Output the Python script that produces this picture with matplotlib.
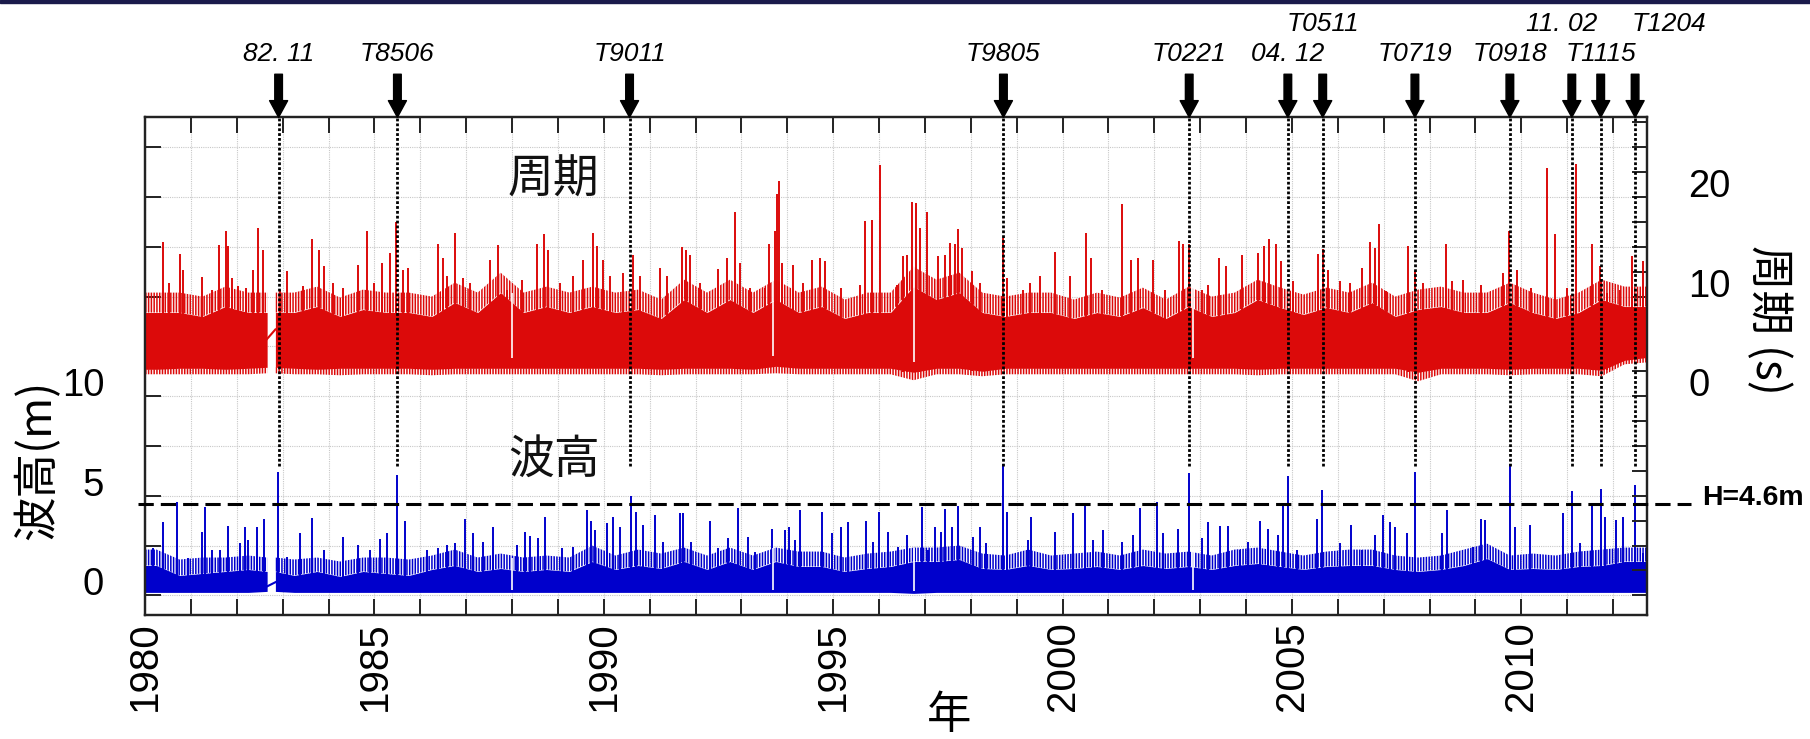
import numpy as np
import matplotlib
matplotlib.use("Agg")
import matplotlib.pyplot as plt
from matplotlib.lines import Line2D
from matplotlib.patches import Rectangle
from matplotlib.ticker import FixedLocator, FuncFormatter

plt.rcParams['font.family'] = ['Liberation Sans', 'Noto Sans CJK JP', 'DejaVu Sans']
plt.rcParams['hatch.linewidth'] = 1.1

# ---------------------------------------------------------------- data
# Half-year bins from 1980.0: solid band edges and the reach of the dense hairlines
period_hi = [8.4, 8.4, 8.0, 9.0, 8.4, 8.4, 8.4, 9.0, 8.0, 8.7,
             8.4, 8.4, 8.0, 9.4, 8.4, 10.4, 8.4, 9.0, 8.4, 9.0,
             8.4, 8.7, 7.8, 9.7, 8.4, 9.7, 8.4, 9.7, 8.4, 9.0,
             7.8, 8.4, 8.4, 11.0, 9.7, 10.4, 8.4, 8.0, 8.4, 8.4,
             7.8, 8.4, 8.0, 8.9, 7.8, 9.0, 8.0, 8.4, 9.7, 8.9,
             8.2, 8.9, 8.4, 9.4, 8.0, 8.7, 9.0, 8.4, 8.4, 9.4,
             8.4, 7.8, 8.4, 9.7, 9.0, 9.0]
period_fringe = [10.4, 10.4, 10.0, 11.0, 10.4, 10.4, 10.4, 11.0, 9.9, 10.7,
                 10.4, 10.4, 10.0, 11.4, 10.4, 12.4, 10.4, 11.0, 10.4, 11.0,
                 10.4, 10.7, 9.7, 11.7, 10.4, 11.7, 10.4, 11.7, 10.4, 11.0,
                 9.7, 10.4, 10.4, 13.0, 11.7, 12.4, 10.4, 10.0, 10.4, 10.4,
                 9.7, 10.4, 9.9, 10.9, 9.7, 11.0, 10.0, 10.4, 11.7, 10.9,
                 10.2, 10.9, 10.4, 11.4, 10.0, 10.7, 11.0, 10.4, 10.4, 11.4,
                 10.4, 9.7, 10.4, 11.7, 11.0, 11.0]
period_lo = [2.7, 2.8, 2.8, 2.7, 2.8, 2.9, 2.8, 2.7, 2.8, 2.8,
             2.8, 2.8, 2.7, 2.8, 2.8, 2.8, 2.8, 2.8, 2.8, 2.8,
             2.8, 2.8, 2.7, 2.8, 2.8, 2.8, 2.7, 3.0, 2.8, 2.8,
             2.8, 2.8, 2.8, 2.4, 2.8, 2.8, 2.5, 2.8, 2.8, 2.8,
             2.8, 2.8, 2.8, 2.8, 2.8, 2.8, 2.8, 2.8, 2.7, 2.8,
             2.8, 2.8, 2.8, 2.8, 2.8, 2.4, 2.8, 2.8, 2.8, 2.7,
             2.8, 2.8, 2.8, 2.6, 3.6, 3.9]
period_floor = [2.2, 2.2, 2.2, 2.2, 2.2, 2.3, 2.2, 2.2, 2.1, 2.2,
                2.2, 2.2, 2.1, 2.2, 2.2, 2.2, 2.2, 2.2, 2.2, 2.2,
                2.2, 2.2, 2.1, 2.2, 2.2, 2.2, 2.2, 2.3, 2.2, 2.2,
                2.2, 2.2, 2.2, 1.6, 2.2, 2.2, 2.0, 2.2, 2.2, 2.2,
                2.2, 2.2, 2.2, 2.2, 2.2, 2.2, 2.2, 2.2, 2.1, 2.2,
                2.2, 2.2, 2.2, 2.2, 2.2, 1.5, 2.2, 2.2, 2.2, 2.1,
                2.2, 2.2, 2.2, 2.0, 3.2, 3.4]
height_hi = [1.5, 1.0, 1.1, 1.2, 1.3, 1.2, 1.0, 1.2, 0.95, 1.2,
             1.1, 1.0, 1.3, 1.5, 1.2, 1.35, 1.2, 1.3, 1.2, 1.7,
             1.3, 1.5, 1.35, 1.7, 1.3, 1.7, 1.3, 1.7, 1.45, 1.45,
             1.2, 1.35, 1.45, 1.7, 1.7, 1.8, 1.35, 1.3, 1.5, 1.3,
             1.35, 1.45, 1.3, 1.5, 1.35, 1.45, 1.3, 1.5, 1.6, 1.45,
             1.3, 1.45, 1.5, 1.5, 1.3, 1.2, 1.3, 1.5, 1.85, 1.3,
             1.35, 1.3, 1.45, 1.5, 1.7, 1.7]
height_fringe = [2.3, 1.8, 1.9, 1.9, 2.0, 1.9, 1.8, 1.9, 1.7, 1.9,
                 1.9, 1.8, 2.0, 2.3, 1.9, 2.1, 1.9, 2.0, 1.9, 2.5,
                 2.0, 2.3, 2.1, 2.4, 2.0, 2.4, 2.0, 2.4, 2.2, 2.2,
                 1.9, 2.1, 2.2, 2.4, 2.4, 2.5, 2.1, 2.0, 2.3, 2.0,
                 2.1, 2.2, 2.0, 2.3, 2.1, 2.2, 2.0, 2.3, 2.4, 2.2,
                 2.0, 2.2, 2.3, 2.3, 2.0, 1.9, 2.0, 2.3, 2.6, 2.0,
                 2.1, 2.0, 2.2, 2.3, 2.4, 2.4]
height_lo = [0.15, 0.15, 0.15, 0.15, 0.15, 0.2, 0.15, 0.15, 0.15, 0.15,
             0.15, 0.15, 0.15, 0.15, 0.15, 0.15, 0.15, 0.15, 0.15, 0.15,
             0.15, 0.15, 0.15, 0.15, 0.15, 0.15, 0.15, 0.15, 0.15, 0.15,
             0.15, 0.15, 0.15, 0.1, 0.15, 0.15, 0.15, 0.15, 0.15, 0.15,
             0.15, 0.15, 0.15, 0.15, 0.15, 0.15, 0.15, 0.15, 0.15, 0.15,
             0.15, 0.15, 0.15, 0.15, 0.15, 0.15, 0.15, 0.15, 0.15, 0.15,
             0.15, 0.15, 0.15, 0.15, 0.15, 0.15]

# Individual peaks standing out of the band
period_peak_t = [1980.40, 1980.51, 1980.75, 1980.83, 1981.23, 1981.45, 1981.62, 1981.76, 1981.81,
                 1981.89, 1982.03, 1982.21, 1982.36, 1982.47, 1982.58, 1982.94, 1983.09, 1983.45,
                 1983.63, 1983.78, 1983.89, 1984.10, 1984.32, 1984.65, 1984.84, 1984.98, 1985.16,
                 1985.34, 1985.47, 1985.63, 1985.74, 1986.38, 1986.50, 1986.57, 1986.76, 1986.94,
                 1987.08, 1987.52, 1987.70, 1987.88, 1988.21, 1988.54, 1988.70, 1988.79, 1989.04,
                 1989.33, 1989.55, 1989.76, 1989.84, 1989.99, 1990.13, 1990.42, 1990.63, 1990.79,
                 1991.22, 1991.37, 1991.70, 1991.80, 1991.88, 1992.10, 1992.49, 1992.68, 1992.86,
                 1992.97, 1993.19, 1993.51, 1993.61, 1993.73, 1993.78, 1993.82, 1993.88, 1994.13,
                 1994.35, 1994.53, 1994.71, 1994.82, 1995.18, 1995.58, 1995.69, 1995.84, 1996.02,
                 1996.38, 1996.53, 1996.60, 1996.71, 1996.80, 1996.89, 1997.05, 1997.29, 1997.44,
                 1997.54, 1997.65, 1997.73, 1997.80, 1998.02, 1998.20, 1998.71, 1998.78, 1999.14,
                 1999.29, 1999.51, 1999.83, 2000.16, 2000.51, 2000.63, 2000.85, 2001.29, 2001.50,
                 2001.65, 2001.98, 2002.23, 2002.54, 2002.62, 2002.76, 2003.03, 2003.17, 2003.41,
                 2003.57, 2003.90, 2004.26, 2004.39, 2004.50, 2004.66, 2004.77, 2005.03, 2005.56,
                 2005.68, 2005.79, 2006.04, 2006.26, 2006.52, 2006.70, 2006.81, 2006.89, 2007.06,
                 2007.53, 2007.68, 2007.86, 2008.36, 2008.48, 2008.73, 2009.13, 2009.60, 2009.74,
                 2009.90, 2010.22, 2010.55, 2010.73, 2010.99, 2011.19, 2011.54, 2011.71, 2011.86,
                 2012.15, 2012.42, 2012.66]
period_peak_v = [15.5, 11.4, 14.3, 12.7, 12.0, 10.7, 15.2, 16.6, 15.1,
                 11.9, 11.1, 10.9, 12.7, 16.9, 14.7, 10.7, 12.6, 11.1,
                 15.8, 14.7, 13.1, 11.4, 10.9, 13.2, 16.6, 11.4, 13.4,
                 14.4, 17.5, 12.7, 12.9, 15.3, 13.9, 12.1, 16.4, 11.9,
                 11.4, 13.7, 15.2, 10.7, 11.7, 15.3, 16.3, 14.7, 11.4,
                 12.1, 13.7, 16.4, 15.1, 13.7, 12.1, 12.4, 14.2, 12.1,
                 12.9, 12.1, 15.0, 14.7, 14.2, 11.4, 12.8, 13.9, 18.5,
                 13.4, 10.9, 10.9, 15.3, 16.6, 20.3, 21.6, 13.4, 13.2,
                 11.4, 13.7, 13.9, 13.6, 10.9, 11.2, 17.6, 17.7, 23.2,
                 11.2, 14.1, 14.2, 19.5, 19.4, 16.9, 18.5, 14.1, 14.2,
                 15.4, 15.3, 16.8, 14.9, 12.6, 11.4, 15.9, 11.9, 10.7,
                 11.4, 12.1, 14.5, 12.1, 16.4, 13.9, 10.7, 19.3, 13.7,
                 13.9, 13.7, 10.7, 15.6, 15.3, 15.3, 10.7, 11.2, 13.9,
                 13.1, 14.2, 14.4, 15.1, 15.8, 15.3, 13.6, 11.6, 14.3,
                 14.8, 12.7, 11.6, 11.4, 12.9, 15.5, 14.9, 17.3, 10.6,
                 15.1, 12.6, 11.4, 15.3, 11.6, 11.7, 11.2, 12.4, 16.6,
                 12.7, 10.9, 22.9, 16.3, 10.9, 23.3, 15.3, 13.1, 10.4,
                 10.7, 14.1, 13.6]

height_peak_t = [1980.18, 1980.40, 1980.69, 1980.94, 1981.23, 1981.31, 1981.45, 1981.63, 1981.81,
                 1982.07, 1982.18, 1982.25, 1982.43, 1982.59, 1982.90, 1983.09, 1983.38, 1983.63,
                 1983.89, 1984.32, 1984.65, 1984.90, 1985.11, 1985.27, 1985.50, 1985.67, 1986.14,
                 1986.39, 1986.57, 1986.76, 1986.97, 1987.15, 1987.37, 1987.59, 1988.10, 1988.28,
                 1988.39, 1988.57, 1988.72, 1989.08, 1989.33, 1989.63, 1989.73, 1989.81, 1990.06,
                 1990.21, 1990.35, 1990.60, 1990.71, 1990.86, 1991.11, 1991.30, 1991.66, 1991.73,
                 1991.91, 1992.31, 1992.49, 1992.71, 1992.93, 1993.15, 1993.29, 1993.66, 1993.95,
                 1994.04, 1994.17, 1994.27, 1994.75, 1994.97, 1995.18, 1995.33, 1995.71, 1995.87,
                 1996.00, 1996.20, 1996.42, 1996.60, 1996.93, 1997.07, 1997.22, 1997.36, 1997.44,
                 1997.58, 1997.73, 1998.05, 1998.20, 1998.34, 1998.71, 1998.78, 1999.25, 1999.32,
                 1999.83, 2000.23, 2000.49, 2000.67, 2000.89, 2001.29, 2001.54, 2001.69, 2002.05,
                 2002.19, 2002.52, 2002.76, 2003.03, 2003.17, 2003.43, 2003.61, 2003.87, 2004.05,
                 2004.30, 2004.48, 2004.70, 2004.81, 2004.91, 2005.10, 2005.54, 2005.66, 2006.04,
                 2006.28, 2006.52, 2006.81, 2006.99, 2007.13, 2007.24, 2007.50, 2007.68, 2008.26,
                 2008.37, 2008.95, 2009.13, 2009.21, 2009.75, 2009.86, 2010.19, 2010.91, 2011.10,
                 2011.28, 2011.53, 2011.73, 2011.82, 2012.07, 2012.22, 2012.48, 2012.66]
height_peak_v = [2.36, 3.70, 4.67, 1.86, 3.20, 4.45, 2.28, 2.28, 3.48,
                 2.61, 3.41, 2.78, 3.41, 3.83, 6.17, 1.94, 3.11, 3.90,
                 2.28, 2.91, 2.53, 2.28, 2.81, 3.15, 6.04, 3.75, 2.28,
                 2.36, 2.53, 2.61, 3.83, 3.11, 2.70, 3.45, 2.53, 3.20,
                 2.98, 2.86, 3.95, 2.36, 2.44, 4.28, 3.75, 3.28, 3.62,
                 3.95, 3.45, 5.00, 4.20, 3.53, 4.03, 2.70, 4.12, 4.12,
                 2.70, 3.75, 2.36, 2.86, 4.37, 2.95, 2.19, 3.32, 3.28,
                 3.41, 2.78, 4.28, 4.20, 3.11, 3.41, 3.70, 3.75, 2.70,
                 4.20, 3.20, 2.44, 3.03, 4.45, 2.28, 3.45, 3.20, 4.32,
                 3.45, 4.49, 2.91, 3.41, 2.61, 6.58, 4.20, 2.78, 3.95,
                 3.20, 4.12, 4.62, 2.78, 3.28, 2.70, 3.03, 4.37, 4.67,
                 3.11, 3.32, 6.12, 2.86, 3.70, 3.48, 3.48, 2.28, 2.70,
                 3.75, 3.32, 3.03, 4.54, 5.99, 2.28, 3.82, 5.29, 2.61,
                 3.53, 2.28, 3.03, 4.03, 3.70, 3.45, 3.15, 6.17, 3.11,
                 4.28, 2.44, 3.82, 3.78, 6.58, 3.45, 3.53, 4.12, 5.24,
                 2.61, 4.54, 5.34, 3.95, 3.78, 3.95, 5.54, 2.11]

# Continuous recording periods, the straight link across the 1982 outage,
# and short missing intervals inside the record
record_segments = [(1980.0, 1982.66), (1982.84, 2012.75)]
link_t = [1982.65, 1982.84]
link_period = [5.7, 6.7]
link_height = [0.44, 0.66]
missing_t = [1988.00, 1993.69, 1996.76, 2002.85]

# Storm events marked above the panel
event_names = ['82. 11', 'T8506', 'T9011', 'T9805', 'T0221', '04. 12',
               'T0511', 'T0719', 'T0918', '11. 02', 'T1115', 'T1204']
event_t = [1982.91, 1985.50, 1990.56, 1998.71, 2002.76, 2004.91,
           2005.67, 2007.68, 2009.75, 2011.10, 2011.73, 2012.48]
event_upper_row = [False, False, False, False, False, False,
                   True, False, False, True, False, True]

threshold_h = 4.6
year_ticks = list(range(1980, 2013))
height_ticks = [0, 2.5, 5, 7.5, 10, 12.5, 15, 17.5, 20, 22.5]
period_ticks = [-20, -17.5, -15, -12.5, -10, -7.5, -5, -2.5, 0, 2.5, 5, 7.5,
                10, 12.5, 15, 17.5, 20, 22.5, 25, 27.5]

# ---------------------------------------------------------------- style
RED = '#DC0A0A'
BLUE = '#0000CC'
SPINE = '#222222'
CJK = ['Noto Sans CJK JP', 'DejaVu Sans']
NUM = ['Liberation Sans', 'DejaVu Sans']
NARROW = ['Liberation Sans Narrow', 'Liberation Sans', 'DejaVu Sans']
BIN0, BINW = 1980.0, 0.5
FRINGE_HATCH = '||||||'

fig = plt.figure(figsize=(18.10, 7.39), dpi=100)
fig.patches.append(Rectangle((0, 1 - 3 / 739), 1, 3 / 739, transform=fig.transFigure,
                             color='#1b1b4b', zorder=10))
ax = fig.add_axes([0.08017, 0.16739, 0.83005, 0.67388])
ax2 = ax.twinx()


def bin_of(t, n):
    return np.clip(((np.asarray(t) - BIN0) // BINW).astype(int), 0, n - 1)


def draw_band(axis, top_vals, bot_vals, color, hatch=None):
    top_vals = np.asarray(top_vals, float)
    bot_vals = np.asarray(bot_vals, float)
    n = len(top_vals)
    centers = BIN0 + BINW / 2 + BINW * np.arange(n)
    for a, b in record_segments:
        inside = (centers > a) & (centers < b)
        ia, ib = bin_of(a, n), bin_of(b - 1e-6, n)
        xs = np.r_[a, centers[inside], b]
        top = np.r_[top_vals[ia], top_vals[inside], top_vals[ib]]
        bot = np.r_[bot_vals[ia], bot_vals[inside], bot_vals[ib]]
        if hatch:
            axis.fill_between(xs, bot, top, facecolor='none', edgecolor=color,
                              hatch=hatch, lw=0, zorder=2)
        else:
            axis.fill_between(xs, bot, top, color=color, lw=0, zorder=2)


def draw_peaks(axis, t, v, lo, color):
    base = np.asarray(lo, float)[bin_of(t, len(lo))]
    axis.vlines(t, base, v, colors=color, lw=1.4, zorder=2)


# wave height (left axis)
draw_band(ax, height_hi, height_lo, BLUE)
draw_band(ax, height_fringe, height_hi, BLUE, hatch=FRINGE_HATCH)
draw_peaks(ax, height_peak_t, height_peak_v, height_lo, BLUE)
ax.plot(link_t, link_height, color=BLUE, lw=1.5, zorder=2)
hb = bin_of(missing_t, len(height_hi))
ax.vlines(missing_t, np.asarray(height_lo)[hb] + 0.1, np.asarray(height_fringe)[hb],
          colors='white', lw=1.2, zorder=3)

# wave period (right axis)
draw_band(ax2, period_hi, period_lo, RED)
draw_band(ax2, period_fringe, period_hi, RED, hatch=FRINGE_HATCH)
draw_band(ax2, period_lo, period_floor, RED, hatch=FRINGE_HATCH)
draw_peaks(ax2, period_peak_t, period_peak_v, period_lo, RED)
ax2.plot(link_t, link_period, color=RED, lw=1.5, zorder=2)
pb = bin_of(missing_t, len(period_hi))
ax2.vlines(missing_t, np.asarray(period_lo)[pb] + 1.0, np.asarray(period_fringe)[pb],
           colors='white', lw=1.2, zorder=3)

# threshold line
ax2.add_line(Line2D([1979.84, 2013.69], [threshold_h, threshold_h], transform=ax.transData,
                    color='black', lw=2.2, dashes=(5, 2.3), clip_on=False, zorder=6))
ax2.text(2013.93, threshold_h + 0.3, f'H={threshold_h}m', transform=ax.transData,
         ha='left', va='center', fontsize=20.5, fontweight='bold', family=NUM, clip_on=False)

# event markers
ax2.vlines(event_t, 6.5, 24, transform=ax.transData, colors='black', lw=2.0,
           linestyles=[(0, (1, 0.75))], zorder=5)
label_shift = {'11. 02': -7, 'T1204': 24}
for name, t, upper in zip(event_names, event_t, event_upper_row):
    ax2.annotate('', xy=(t, 1.0), xycoords=('data', 'axes fraction'),
                 xytext=(0, 31), textcoords='offset points',
                 arrowprops=dict(facecolor='black', edgecolor='black', width=5.5,
                                 headwidth=13, headlength=12, shrink=0.0),
                 annotation_clip=False)
    ax2.annotate(name, xy=(t, 1.0), xycoords=('data', 'axes fraction'),
                 xytext=(label_shift.get(name, 0), 67 if upper else 45.5),
                 textcoords='offset points', ha='center', va='center',
                 fontsize=19, fontstyle='italic', family=NUM, annotation_clip=False)

# in-panel series names
ax.text(1988.91, 20.86, '周期', ha='center', va='center', fontsize=33, family=CJK,
        color='#111111', zorder=4)
ax.text(1988.91, 6.81, '波高', ha='center', va='center', fontsize=33, family=CJK,
        color='#111111', zorder=4)

# ---------------------------------------------------------------- axes
ax.set_xlim(1980, 2012.75)
ax.set_ylim(-1, 24)
ax2.set_ylim(-22, 28)

ax.xaxis.set_major_locator(FixedLocator(year_ticks))
ax.xaxis.set_major_formatter(FuncFormatter(lambda v, p: f'{int(round(v))}' if round(v) % 5 == 0 else ''))
ax.yaxis.set_major_locator(FixedLocator(height_ticks))
ax.yaxis.set_major_formatter(FuncFormatter(lambda v, p: f'{v:g}' if v in (0, 5, 10) else ''))
ax2.yaxis.set_major_locator(FixedLocator(period_ticks))
ax2.yaxis.set_major_formatter(FuncFormatter(lambda v, p: f'{v:g}' if v in (0, 10, 20) else ''))

ax.grid(True, which='major', color='#c8c8c8', lw=0.8, linestyle=(0, (1, 1)), zorder=0)
ax.set_axisbelow(True)

ax.tick_params(axis='x', which='major', direction='in', length=11.5, width=1.4, color=SPINE,
               top=True, bottom=True, labelsize=29, labelrotation=90, pad=4.5)
ax.tick_params(axis='y', which='major', direction='in', length=11.5, width=1.4, color=SPINE,
               left=True, right=False, labelsize=27.5, pad=29.5)
ax2.tick_params(axis='y', which='major', direction='in', length=11, width=1.4, color=SPINE,
                right=True, left=False, labelsize=27.5, pad=29.5)
for lab in ax.get_xticklabels():
    lab.set_family(NARROW)
for lab in ax.get_yticklabels() + ax2.get_yticklabels():
    lab.set_family(NUM)
    lab.set_va('baseline')

for a in (ax, ax2):
    for s in a.spines.values():
        s.set_color(SPINE)
        s.set_linewidth(1.6)

fig.text(0.0207, 0.3775, '波高(m)', rotation=90, ha='center', va='center', fontsize=32, family=CJK)
fig.text(0.9773, 0.567, '周期 (s)', rotation=270, ha='center', va='center', fontsize=32, family=CJK)
fig.text(0.5243, 0.002, '年', ha='center', va='bottom', fontsize=32, family=CJK)

fig.savefig('out.png', dpi=100)
